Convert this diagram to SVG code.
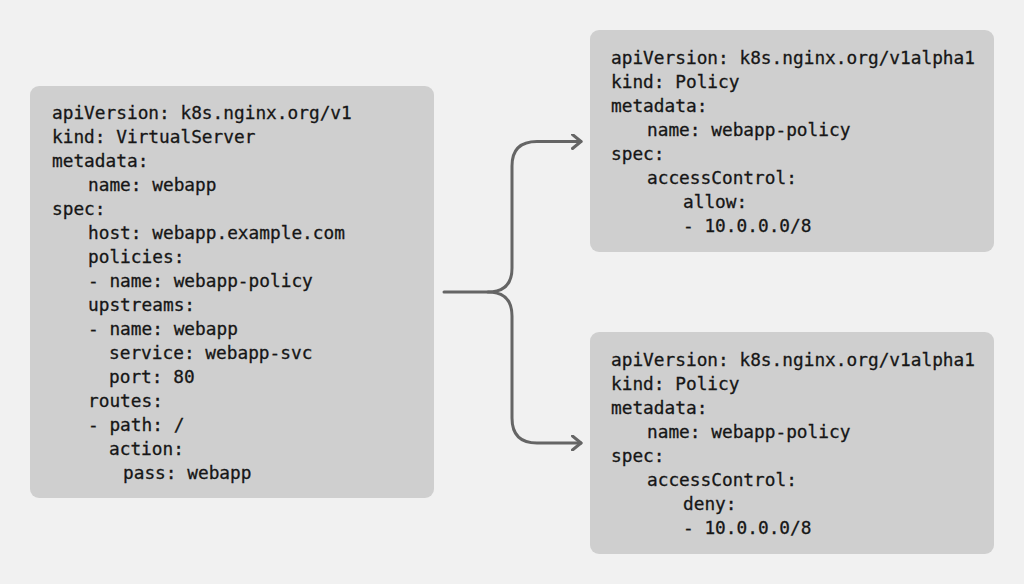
<svg xmlns="http://www.w3.org/2000/svg" width="1024" height="584" viewBox="0 0 1024 584">
<style>
.box{fill:#cfcfcf;}
.code{font-family:"DejaVu Sans Mono","Liberation Mono",monospace;font-size:17.8px;fill:#161616;stroke:#161616;stroke-width:0.3px;}
.conn{fill:none;stroke:#656565;stroke-width:3;stroke-linecap:round;stroke-linejoin:round;}
</style>
<defs>
<marker id="arrow" viewBox="0 0 12 16" refX="10" refY="8" markerWidth="12" markerHeight="16" markerUnits="userSpaceOnUse" orient="auto">
<path d="M1.5,1 L10,8 L1.5,15" fill="none" stroke="#656565" stroke-width="3" stroke-linecap="round" stroke-linejoin="round"/>
</marker>
</defs>
<rect x="0" y="0" width="1024" height="584" fill="#f1f1f1"/>
<g id="virtualserver">
<rect class="box" x="30" y="86" width="404" height="412" rx="9"/>
<text class="code">
<tspan x="52" y="119">apiVersion: k8s.nginx.org/v1</tspan>
<tspan x="52" y="143">kind: VirtualServer</tspan>
<tspan x="52" y="167">metadata:</tspan>
<tspan x="88" y="191">name: webapp</tspan>
<tspan x="52" y="215">spec:</tspan>
<tspan x="88" y="239">host: webapp.example.com</tspan>
<tspan x="88" y="263">policies:</tspan>
<tspan x="88" y="287">- name: webapp-policy</tspan>
<tspan x="88" y="311">upstreams:</tspan>
<tspan x="88" y="335">- name: webapp</tspan>
<tspan x="109" y="359">service: webapp-svc</tspan>
<tspan x="109" y="383">port: 80</tspan>
<tspan x="88" y="407">routes:</tspan>
<tspan x="88" y="431">- path: /</tspan>
<tspan x="109" y="455">action:</tspan>
<tspan x="123" y="479">pass: webapp</tspan>
</text>
</g>
<g id="policy-allow">
<rect class="box" x="590" y="30" width="404" height="222" rx="9"/>
<text class="code">
<tspan x="611" y="64">apiVersion: k8s.nginx.org/v1alpha1</tspan>
<tspan x="611" y="88">kind: Policy</tspan>
<tspan x="611" y="112">metadata:</tspan>
<tspan x="647" y="136">name: webapp-policy</tspan>
<tspan x="611" y="160">spec:</tspan>
<tspan x="647" y="184">accessControl:</tspan>
<tspan x="683" y="208">allow:</tspan>
<tspan x="683" y="232">- 10.0.0.0/8</tspan>
</text>
</g>
<g id="policy-deny">
<rect class="box" x="590" y="332" width="404" height="222" rx="9"/>
<text class="code">
<tspan x="611" y="366">apiVersion: k8s.nginx.org/v1alpha1</tspan>
<tspan x="611" y="390">kind: Policy</tspan>
<tspan x="611" y="414">metadata:</tspan>
<tspan x="647" y="438">name: webapp-policy</tspan>
<tspan x="611" y="462">spec:</tspan>
<tspan x="647" y="486">accessControl:</tspan>
<tspan x="683" y="510">deny:</tspan>
<tspan x="683" y="534">- 10.0.0.0/8</tspan>
</text>
</g>
<g id="connectors">
<path class="conn" d="M444,292 L488,292 Q512,292 512,268 L512,166 Q512,141.5 537,141.5 L581,141.5" marker-end="url(#arrow)"/>
<path class="conn" d="M488,292 Q512,292 512,316 L512,418 Q512,443 537,443 L581,443" marker-end="url(#arrow)"/>
</g>
</svg>
